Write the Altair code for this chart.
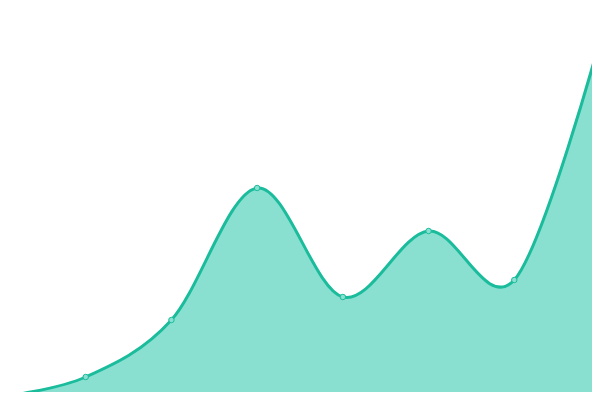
import altair as alt
import pandas as pd

idx = [0, 1, 2, 3, 4, 5, 6, 7]
values = [3, 23, 80, 212, 103, 169, 120, 360]

df = pd.DataFrame({"i": idx, "v": values})

step = 600 / 7
x = alt.X("i:Q", axis=None, scale=alt.Scale(domain=[8 / step, 592 / step], nice=False, zero=False))
y = alt.Y("v:Q", axis=None, scale=alt.Scale(domain=[8, 392], nice=False, zero=False))

base = alt.Chart(df).encode(x=x, y=y)

interp = "cardinal"
area = base.mark_area(interpolate=interp, color="#8ae0d0", clip=True).encode(y2=alt.value(384))
line = base.mark_line(interpolate=interp, color="#1abc9c", strokeWidth=3, clip=True)
pts = base.mark_point(filled=True, fill="#8ae0d0", stroke="#1abc9c", strokeWidth=1, size=30, opacity=1, clip=True)

chart = (
    alt.layer(area, line, pts)
    .properties(width=584, height=384, padding=0, autosize=alt.AutoSizeParams(type="none"))
    .configure_view(stroke=None)
)

chart.save("out.html", embed_options={"renderer": "svg", "actions": False})
